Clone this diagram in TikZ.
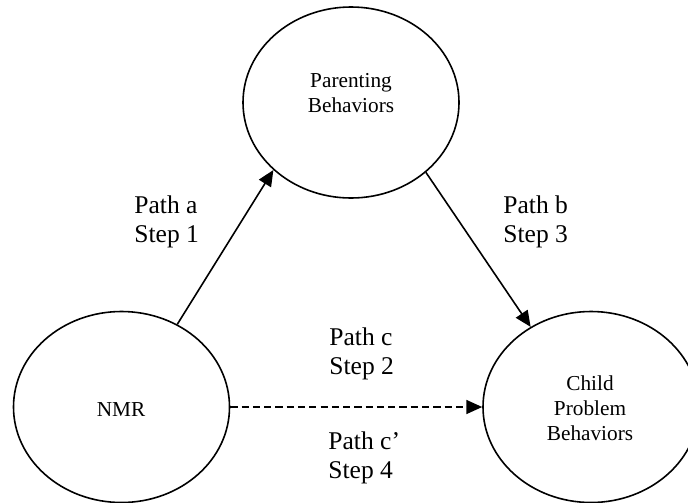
\documentclass[tikz,border=0pt]{standalone}
\usepackage{fontspec}
\setmainfont{Liberation Serif}
\usetikzlibrary{shapes.geometric,arrows.meta}
\begin{document}
\begin{tikzpicture}[x=0.47pt,y=-0.47pt,
  oval/.style={draw, ellipse, line width=0.75pt, minimum width=216*0.47pt,
    minimum height=191*0.47pt, inner sep=0pt},
  intext/.style={font=\fontsize{10}{11.75}\selectfont, align=center, inner sep=0pt},
  lbl/.style={font=\fontsize{12}{13.4}\selectfont, align=left, inner sep=0pt},
  link/.style={line width=0.75pt, -{Triangle[length=7.5pt,width=6.6pt]}},
  dlink/.style={link, dash pattern=on 3.4pt off 1.9pt}
]
\useasboundingbox (0,0) rectangle (688,502);
\clip (0,0) rectangle (688,502);

% the three variables
\node[oval] (par) at (351,102.5) {};
\node[oval] (nmr) at (121.5,407) {};
\node[oval] (cpb) at (591,407) {};

% multi-line nodes: the base anchor sits on the last line
\node[intext, anchor=base] (partext) at (351,112) {Parenting\\Behaviors};
\node[intext, anchor=base] (nmrtext) at (121,416) {NMR};
\node[intext, anchor=base] (cpbtext) at (590,440) {Child\\Problem\\Behaviors};

% paths
\draw[link] (nmr.56.5) -- (par.221.7);
\draw[link] (par.317.9) -- (cpb.127.7);
\draw[dlink] (nmr.east) -- (cpb.west);

% path labels
\node[lbl, anchor=base west] (la) at (134,242) {Path a\\Step 1};
\node[lbl, anchor=base west] (lb) at (503,242) {Path b\\Step 3};
\node[lbl, anchor=base west] (lc) at (329,374) {Path c\\Step 2};
\node[lbl, anchor=base west] (lcp) at (328,478) {Path c'\\Step 4};
\end{tikzpicture}
\end{document}
